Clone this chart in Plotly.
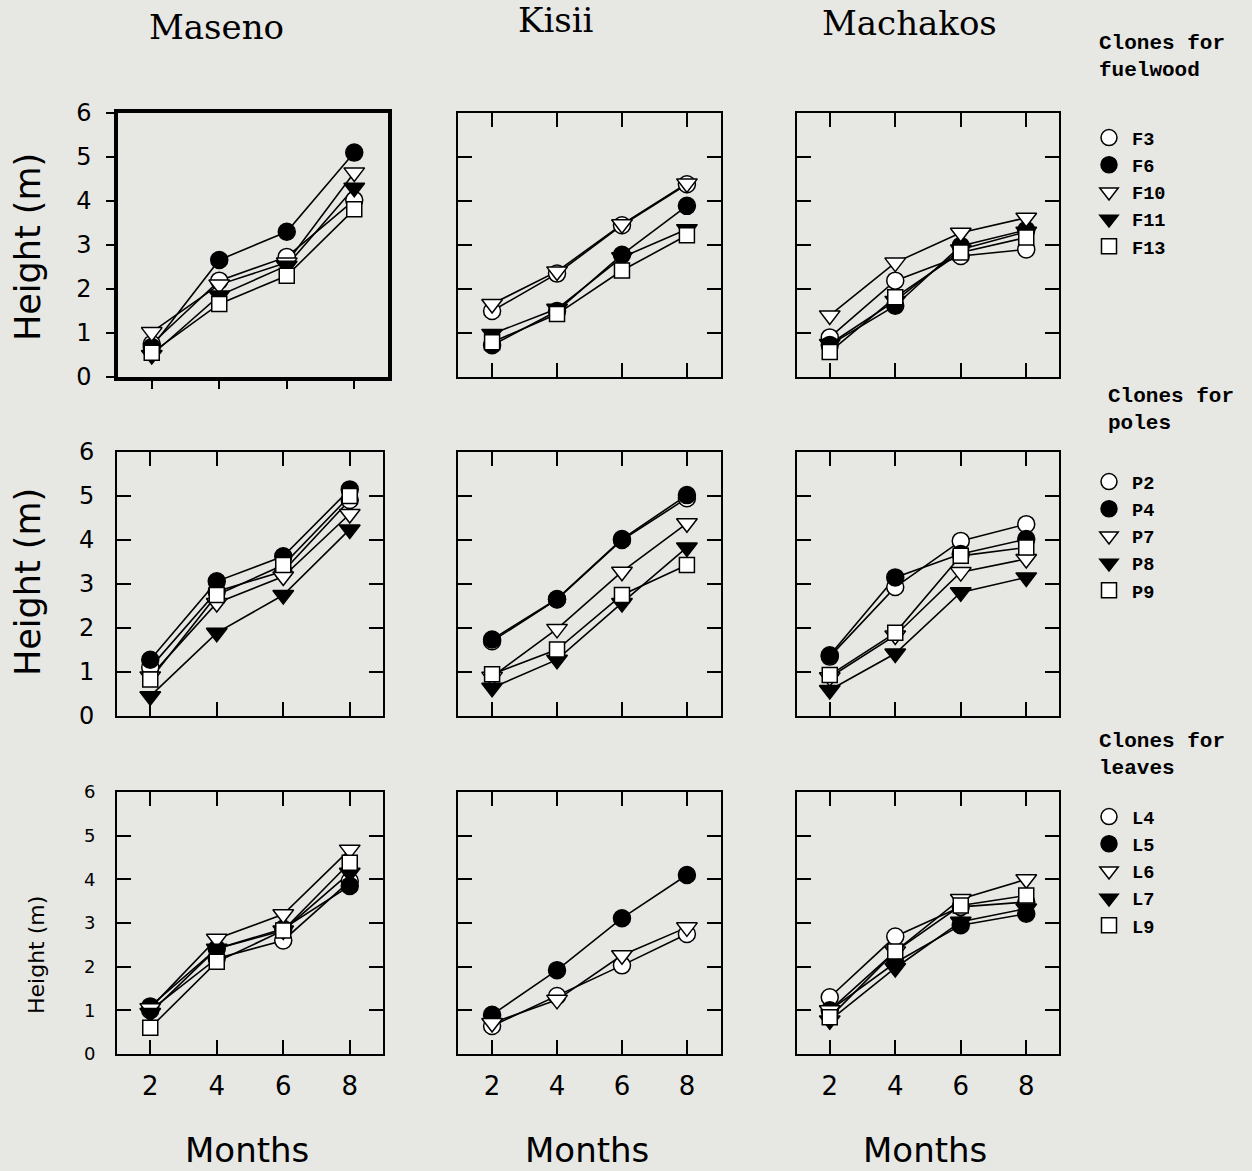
import plotly.graph_objects as go

# Tree height (m) at 2, 4, 6 and 8 months after planting
months = [2, 4, 6, 8]
sites = ["Maseno", "Kisii", "Machakos"]

fuel_clones = ["F3", "F6", "F10", "F11", "F13"]
pole_clones = ["P2", "P4", "P7", "P8", "P9"]
leaf_clones = ["L4", "L5", "L6", "L7", "L9"]

# one row per clone, in the clone order above
fuel_maseno = [[0.75, 2.19, 2.73, 4.02], [0.68, 2.66, 3.30, 5.10], [1.02, 2.10, 2.60, 4.65],
               [0.50, 1.85, 2.53, 4.30], [0.55, 1.66, 2.30, 3.81]]
fuel_kisii = [[1.50, 2.35, 3.45, 4.38], [0.72, 1.50, 2.78, 3.89], [1.66, 2.40, 3.47, 4.40],
              [0.98, 1.55, 2.72, 3.36], [0.79, 1.43, 2.42, 3.22]]
fuel_machakos = [[0.90, 2.19, 2.75, 2.90], [0.73, 1.62, 2.98, 3.34], [1.40, 2.60, 3.28, 3.62],
                 [0.75, 1.73, 2.90, 3.30], [0.57, 1.81, 2.83, 3.17]]

pole_maseno = [[1.10, 2.83, 3.29, 4.91], [1.28, 3.06, 3.63, 5.15], [0.90, 2.57, 3.17, 4.59],
               [0.45, 1.89, 2.75, 4.24], [0.83, 2.75, 3.43, 5.00]]
pole_kisii = [[1.70, 2.65, 4.00, 4.95], [1.74, 2.66, 4.02, 5.02], [0.89, 1.98, 3.28, 4.38],
              [0.64, 1.28, 2.57, 3.83], [0.95, 1.51, 2.75, 3.43]]
pole_machakos = [[1.35, 2.93, 3.98, 4.36], [1.38, 3.15, 3.68, 4.02], [0.88, 1.83, 3.27, 3.57],
                 [0.59, 1.42, 2.81, 3.15], [0.93, 1.89, 3.64, 3.83]]

leaf_maseno = [[1.00, 2.19, 2.60, 3.96], [1.09, 2.41, 2.87, 3.85], [1.05, 2.64, 3.20, 4.68],
               [0.94, 2.41, 2.83, 4.15], [0.60, 2.11, 2.83, 4.38]]
leaf_kisii = [[0.64, 1.33, 2.03, 2.75], [0.90, 1.92, 3.11, 4.10], [0.71, 1.24, 2.26, 2.90],
              None, None]
leaf_machakos = [[1.30, 2.69, 3.37, 3.48], [1.00, 2.09, 2.95, 3.21], [1.00, 2.35, 3.55, 4.00],
                 [0.77, 1.97, 3.03, 3.33], [0.84, 2.35, 3.40, 3.63]]

groups = [
    ("Clones for<br>fuelwood", fuel_clones, [fuel_maseno, fuel_kisii, fuel_machakos]),
    ("Clones for<br>poles", pole_clones, [pole_maseno, pole_kisii, pole_machakos]),
    ("Clones for<br>leaves", leaf_clones, [leaf_maseno, leaf_kisii, leaf_machakos]),
]

# marker style for the 1st..5th clone of every group
SYMBOLS = ["circle", "circle", "triangle-down", "triangle-down", "square"]
FILLS = ["white", "black", "white", "black", "white"]
SIZES = [17, 17, 18, 18, 15]

W, H = 1252, 1171
BG = "#e7e7e4"

COLS_PX = [(117, 383), (458, 721), (797, 1059)]
ROWS_PX = [(113, 377), (452, 716), (792, 1054)]
XRANGES = [[1.0, 9.0], [0.95, 9.05], [1.0, 9.0]]


def px_x(p):
    return p / W


def px_y(p):
    return 1 - p / H


fig = go.Figure()
layout = {}

for r, (header, clones, site_data) in enumerate(groups):
    for c in range(3):
        k = r * 3 + c + 1
        xa = "x" if k == 1 else f"x{k}"
        ya = "y" if k == 1 else f"y{k}"
        series = site_data[c]
        # connecting lines first so every marker sits above them
        for i, vals in enumerate(series):
            if vals is None:
                continue
            fig.add_trace(go.Scatter(
                x=months, y=vals, mode="lines", xaxis=xa, yaxis=ya,
                line=dict(color="black", width=1.6), showlegend=False, hoverinfo="skip"))
        for i, vals in enumerate(series):
            if vals is None:
                continue
            fig.add_trace(go.Scatter(
                x=months, y=vals, mode="markers", xaxis=xa, yaxis=ya,
                name=clones[i],
                legend="legend" if r == 0 else f"legend{r + 1}",
                showlegend=(c == 0),
                marker=dict(symbol=SYMBOLS[i], size=SIZES[i], color=FILLS[i],
                            line=dict(color="black", width=1.5))))

        x0, x1 = COLS_PX[c]
        if k == 1:
            x0, x1 = 118, 388
        y0, y1 = ROWS_PX[r]
        first = (k == 1)
        tick_font = dict(family="DejaVu Sans", size=18 if r == 2 else 24, color="black")
        common = dict(showgrid=False, zeroline=False, showline=True, linecolor="black",
                      linewidth=3.5 if first else 2,
                      ticks="outside" if first else "inside",
                      ticklen=8 if first else 14, tickwidth=2, tickcolor="black",
                      mirror=True if first else "ticks")
        layout["xaxis" if k == 1 else f"xaxis{k}"] = dict(
            common, domain=[px_x(x0), px_x(x1)], range=XRANGES[c],
            tickvals=months, showticklabels=(r == 2),
            tickfont=dict(family="DejaVu Sans", size=26, color="black"),
            ticklabelstandoff=8,
            anchor=ya)
        layout["yaxis" if k == 1 else f"yaxis{k}"] = dict(
            common, domain=[px_y(y1), px_y(y0)], range=[0, 6],
            tickvals=[0, 1, 2, 3, 4, 5, 6], showticklabels=(c == 0),
            tickfont=tick_font, ticklabelstandoff=16 if not first else 10,
            anchor=xa)

annotations = []
# site titles
for name, cx, cy in [("Maseno", 216, 27), ("Kisii", 556, 20), ("Machakos", 909, 23)]:
    annotations.append(dict(text=name, x=px_x(cx), y=px_y(cy), xref="paper", yref="paper",
                            showarrow=False, xanchor="center", yanchor="middle",
                            font=dict(family="DejaVu Serif", size=34, color="black")))
# x titles
for cx in [247, 587, 925]:
    annotations.append(dict(text="Months", x=px_x(cx), y=px_y(1150), xref="paper", yref="paper",
                            showarrow=False, xanchor="center", yanchor="middle",
                            font=dict(family="DejaVu Sans", size=34, color="black")))
# y titles
for cx, cy, size in [(28, 247, 35), (28, 582, 35), (36, 955, 22)]:
    annotations.append(dict(text="Height (m)", x=px_x(cx), y=px_y(cy), xref="paper", yref="paper",
                            showarrow=False, textangle=-90, xanchor="center", yanchor="middle",
                            font=dict(family="DejaVu Sans", size=size, color="black")))
# legend headers
for (header, _, _), hx, hy in zip(groups, [1097, 1106, 1097], [30, 383, 728]):
    annotations.append(dict(text=header, x=px_x(hx), y=px_y(hy), xref="paper", yref="paper",
                            showarrow=False, xanchor="left", yanchor="top", align="left",
                            font=dict(family="Liberation Mono", size=21, color="black",
                                      weight="bold")))

legend_font = dict(family="Liberation Mono", size=18.6, color="black", weight="bold")
for name, lx, ly in [("legend", 1086, 119), ("legend2", 1086, 463), ("legend3", 1086, 798)]:
    layout[name] = dict(x=px_x(lx), y=px_y(ly), xanchor="left", yanchor="top",
                        bgcolor="rgba(0,0,0,0)", borderwidth=0, font=legend_font,
                        itemsizing="trace", itemwidth=36, tracegroupgap=0)

fig.update_layout(
    width=W, height=H, margin=dict(l=0, r=0, t=0, b=0, autoexpand=False),
    paper_bgcolor=BG, plot_bgcolor=BG,
    annotations=annotations, **layout)

fig.write_html("out.html")
